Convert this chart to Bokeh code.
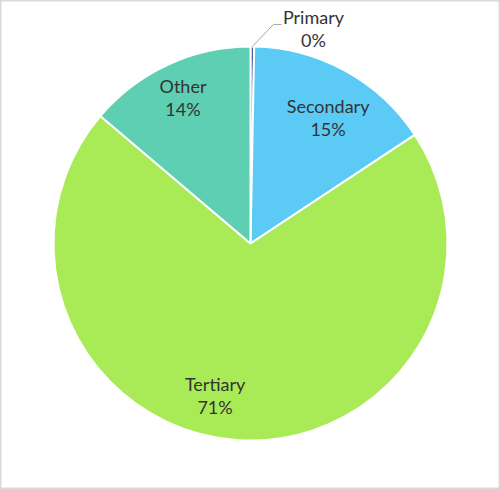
import math
from bokeh.plotting import figure
from bokeh.models import ColumnDataSource
from bokeh.core.properties import value
from bokeh.embed import file_html
from bokeh.resources import INLINE

categories = ["Primary", "Secondary", "Tertiary", "Other"]
shares = [0.3, 15.4, 70.5, 13.8]
labels_pct = ["0%", "15%", "71%", "14%"]
colors = ["#4A5FB0", "#5BCBF5", "#A9EB56", "#5ECFB2"]

W, H = 500, 489
cx, cy, R = 250, 246, 197

total = sum(shares)
starts, ends, mids = [], [], []
cum = 0.0
for s in shares:
    a0 = math.pi / 2 - 2 * math.pi * (cum + s) / total
    a1 = math.pi / 2 - 2 * math.pi * cum / total
    starts.append(a0)
    ends.append(a1)
    mids.append((a0 + a1) / 2)
    cum += s

p = figure(width=W, height=H, x_range=(0, W), y_range=(0, H),
           output_backend="svg", toolbar_location=None, min_border=0)
p.axis.visible = False
p.grid.visible = False
p.background_fill_color = "white"
p.border_fill_color = "white"
p.outline_line_color = "#D9D9D9"
p.outline_line_width = 2

src = ColumnDataSource(dict(start=starts, end=ends, color=colors, cat=categories))
p.wedge(x=cx, y=cy, radius=R, start_angle="start", end_angle="end",
        fill_color="color", line_color="white", line_width=2, source=src)

# label placement (style): radius fraction and angular nudge per slice
lab_r = [1.135, 0.75, 0.79, 0.816]
lab_nudge = [-0.276, -0.05, -0.17, 0.0]
lx, ly1, ly2 = [], [], []
for i in range(len(categories)):
    a = mids[i] + lab_nudge[i]
    x = cx + lab_r[i] * R * math.cos(a)
    y = cy + lab_r[i] * R * math.sin(a)
    lx.append(x)
    ly1.append(y + 11.5)
    ly2.append(y - 11.5)

# leader line for the tiny slice
a = mids[0]
ex, ey = cx + R * math.cos(a), cy + R * math.sin(a)
p.line([ex, lx[0] - 40, lx[0] - 32], [ey, ly1[0] - 7, ly1[0] - 7],
       line_color="#A6A6A6", line_width=1)

p.text(x=lx, y=ly1, text=categories, text_font=value("Lato"),
       text_font_size="18px", text_color="#333333",
       text_align="center", text_baseline="middle")
p.text(x=lx, y=ly2, text=labels_pct, text_font=value("Lato"),
       text_font_size="18px", text_color="#333333",
       text_align="center", text_baseline="middle")

html = file_html(p, INLINE)
html = html.replace("<body>", "<body style=\"margin:0;overflow:hidden\">", 1)
open("out.html", "w").write(html)
